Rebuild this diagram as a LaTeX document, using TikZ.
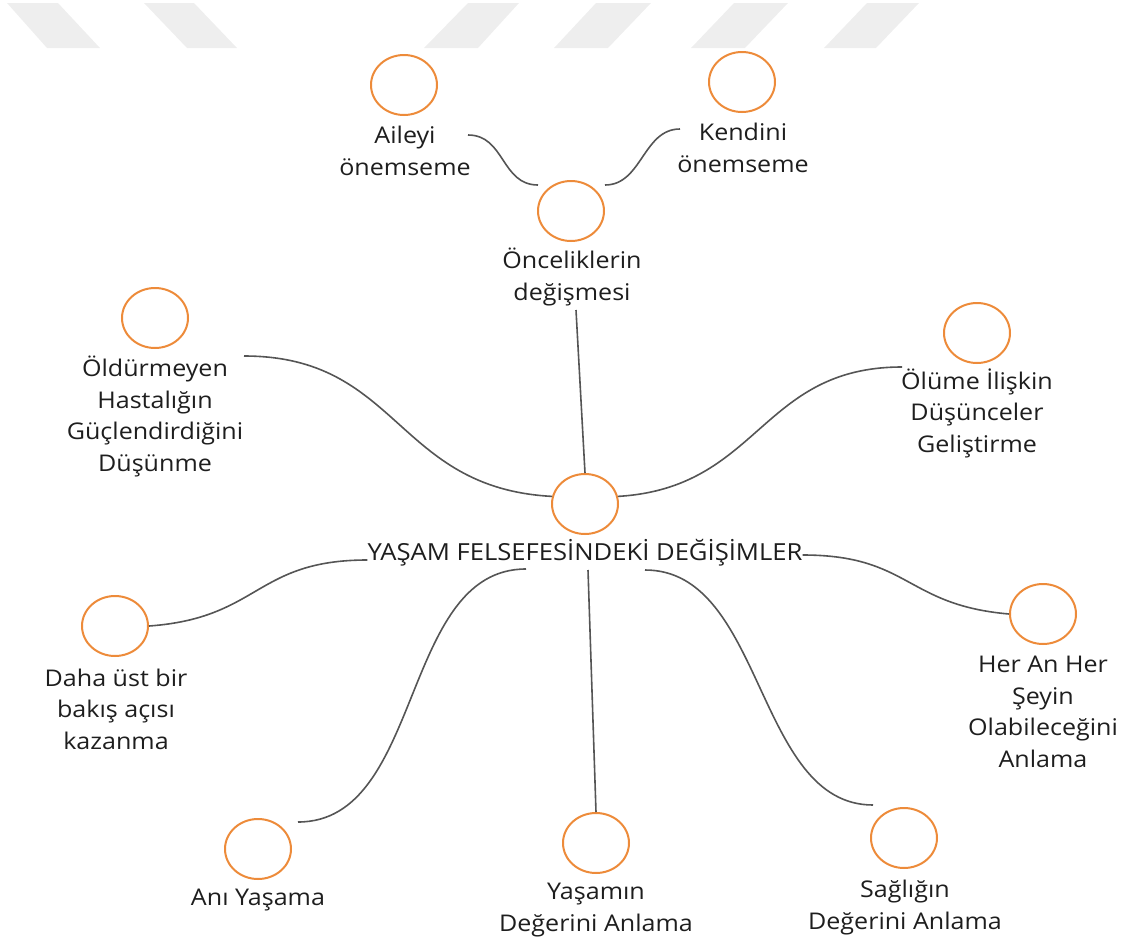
\documentclass[tikz,border=0pt]{standalone}
\usepackage{fontspec}
\setmainfont{Open Sans}[FakeStretch=1.09]
\usetikzlibrary{shapes.geometric}
\definecolor{ringc}{HTML}{ED8B3A}
\definecolor{wirec}{HTML}{555555}
\definecolor{inkc}{HTML}{1E1E1E}
\definecolor{markc}{HTML}{EEEEEE}
\begin{document}
\begin{tikzpicture}[x=1pt,y=-1pt,
  ring/.style={ellipse,draw=ringc,line width=2pt,minimum width=66pt,minimum height=60pt,inner sep=0pt},
  lbl/.style={align=center,font=\fontsize{23}{31.5}\selectfont,text=inkc,inner sep=0pt,anchor=base},
  wire/.style={draw=wirec,line width=1.6pt},
  stripe/.style={fill=markc,draw=none}]
\useasboundingbox (0,0) rectangle (1128,940);
% faint watermark stripes
\fill[stripe] (7,3) -- (58,3) -- (100,48) -- (47,48) -- cycle;
\fill[stripe] (144,3) -- (194,3) -- (237,48) -- (187,48) -- cycle;
\fill[stripe] (468,3) -- (519,3) -- (478,48) -- (424,48) -- cycle;
\fill[stripe] (596,3) -- (651,3) -- (608,48) -- (554,48) -- cycle;
\fill[stripe] (734,3) -- (788,3) -- (745,48) -- (691,48) -- cycle;
\fill[stripe] (867,3) -- (919,3) -- (876,48) -- (824,48) -- cycle;
% circles
\node[ring] (ail) at (404,85) {};
\node[ring] (ken) at (742,82) {};
\node[ring] (onc) at (571,211) {};
\node[ring] (old) at (155,318) {};
\node[ring] (olu) at (977,333) {};
\node[ring] (mid) at (585,504) {};
\node[ring] (dah) at (115,626) {};
\node[ring] (her) at (1043,614) {};
\node[ring] (ani) at (258,849) {};
\node[ring] (yas) at (596,843) {};
\node[ring] (sag) at (904,838) {};
% labels (anchor = baseline of last line)
\node[lbl] (ailT) at (405,175) {Aileyi\\önemseme};
\node[lbl] (kenT) at (743,172) {Kendini\\önemseme};
\node[lbl] (oncT) at (572,300) {Önceliklerin\\değişmesi};
\node[lbl] (oldT) at (155,471) {Öldürmeyen\\Hastalığın\\Güçlendirdiğini\\Düşünme};
\node[lbl] (oluT) at (977,452) {Ölüme İlişkin\\Düşünceler\\Geliştirme};
\node[lbl,font=\fontsize{23.5}{31.5}\selectfont] (title) at (585,560) {YAŞAM FELSEFESİNDEKİ DEĞİŞİMLER};
\node[lbl] (dahT) at (116,749) {Daha üst bir\\bakış açısı\\kazanma};
\node[lbl] (herT) at (1043,767) {Her An Her\\Şeyin\\Olabileceğini\\Anlama};
\node[lbl] (aniT) at (258,905) {Anı Yaşama};
\node[lbl] (yasT) at (596,931) {Yaşamın\\Değerini Anlama};
\node[lbl] (sagT) at (905,929) {Sağlığın\\Değerini Anlama};
% free ends
\coordinate (ailE) at (468,135);
\coordinate (oncL) at (538,185);
\coordinate (kenW) at (680,129);
\coordinate (oncR) at (605,185);
\coordinate (oncS) at (576,310);
\coordinate (oldE) at (244,356);
\coordinate (oluW) at (902,367);
\coordinate (tA) at (526,569);
\coordinate (tY) at (588,570);
\coordinate (tS) at (645,570);
\coordinate (aniE) at (298,822);
\coordinate (sagW) at (873,805);
% connectors
\draw[wire] (ailE) .. controls (505,135) and (501,185) .. (oncL);
\draw[wire] (kenW) .. controls (643,129) and (642,185) .. (oncR);
\draw[wire] (oncS) -- (mid.north);
\draw[wire] (oldE) .. controls (400,356) and (395,488) .. (mid.167);
\draw[wire] (mid.13) .. controls (760,488) and (760,367) .. (oluW);
\draw[wire] (dah.east) .. controls (260,618) and (255,560) .. (title.base west);
\draw[wire] ([yshift=5pt]title.base east) .. controls (910,555) and (905,605) .. (her.west);
\draw[wire] (tA) .. controls (400,569) and (424,822) .. (aniE);
\draw[wire] (tY) -- (yas.north);
\draw[wire] (tS) .. controls (765,570) and (755,805) .. (sagW);
\end{tikzpicture}
\end{document}
